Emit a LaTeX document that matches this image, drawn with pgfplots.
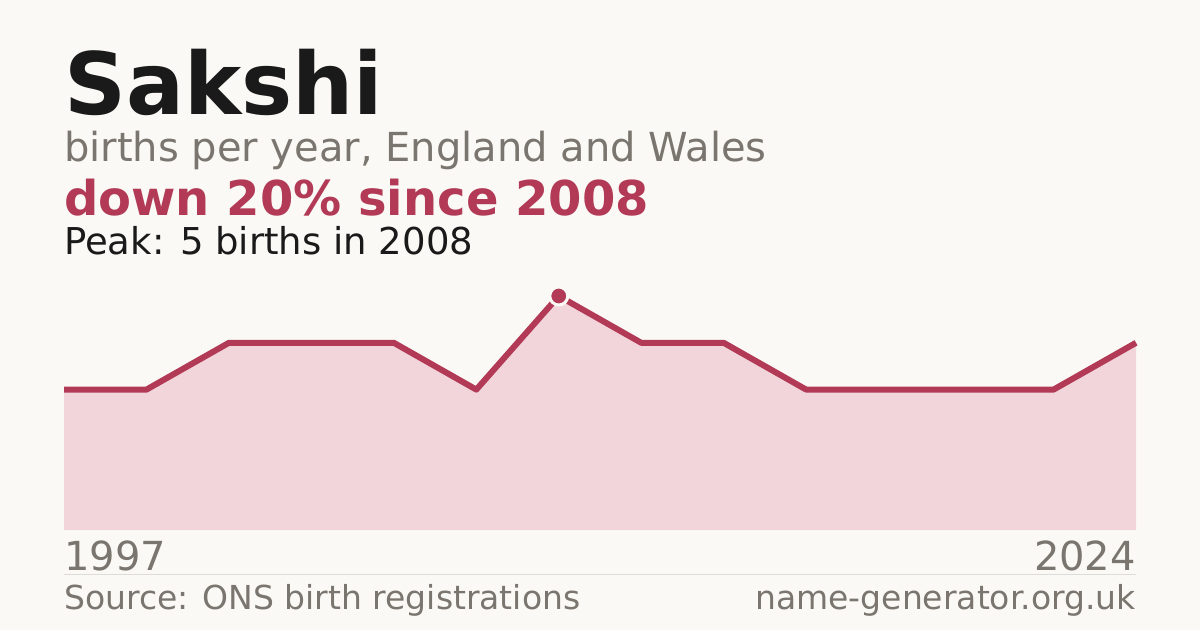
\documentclass[border=0pt]{standalone}
\usepackage{pgfplots}
\pgfplotsset{compat=1.18}
\usepackage{fontspec}
\setmainfont{DejaVu Sans}

\definecolor{bg}{HTML}{FAF9F5}
\definecolor{ink}{HTML}{1A1A1A}
\definecolor{muted}{HTML}{7A756E}
\definecolor{accent}{HTML}{B23A56}
\definecolor{areafill}{HTML}{F1D5DA}
\definecolor{rulec}{HTML}{DEDCD6}

\begin{document}
\begin{tikzpicture}
\fill[bg] (0pt,0pt) rectangle (1200pt,630pt);

\begin{axis}[
    at={(64pt,100pt)}, anchor=south west,
    scale only axis,
    width=1072pt, height=234pt,
    xmin=0, xmax=13,
    ymin=0, ymax=5,
    axis lines=none,
    xtick=\empty, ytick=\empty,
    clip=false,
]
% births per year (plotted by index, 1997 ... 2024)
\addplot[fill=areafill, draw=none] coordinates {
    (0,3)(1,3)(2,4)(3,4)(4,4)(5,3)(6,5)(7,4)(8,4)(9,3)(10,3)(11,3)(12,3)(13,4)
} \closedcycle;
\addplot[accent, line width=6pt, line join=round] coordinates {
    (0,3)(1,3)(2,4)(3,4)(4,4)(5,3)(6,5)(7,4)(8,4)(9,3)(10,3)(11,3)(12,3)(13,4)
};
% peak
\addplot[only marks, mark=*, mark size=9pt,
    mark options={fill=accent, draw=bg, line width=3pt}] coordinates {(6,5)};
\end{axis}

\node[anchor=base west, inner sep=0, text=ink,
    font=\fontsize{86}{86}\selectfont\bfseries] at (64pt,515pt) {Sakshi};
\node[anchor=base west, inner sep=0, text=muted,
    font=\fontsize{40}{40}\selectfont] at (64pt,468pt) {births per year, England and Wales};
\node[anchor=base west, inner sep=0, text=accent,
    font=\fontsize{48}{48}\selectfont\bfseries] at (64pt,414pt) {down 20\% since 2008};
\node[anchor=base west, inner sep=0, text=ink,
    font=\fontsize{37}{37}\selectfont] at (64pt,375pt) {Peak: 5 births in 2008};

\node[anchor=base west, inner sep=0, text=muted,
    font=\fontsize{40}{40}\selectfont] at (64pt,60pt) {1997};
\node[anchor=base east, inner sep=0, text=muted,
    font=\fontsize{40}{40}\selectfont] at (1136pt,60pt) {2024};
\draw[rulec, line width=1pt] (64pt,56pt) -- (1136pt,56pt);
\node[anchor=base west, inner sep=0, text=muted,
    font=\fontsize{33}{33}\selectfont] at (64pt,21pt) {Source: ONS birth registrations};
\node[anchor=base east, inner sep=0, text=muted,
    font=\fontsize{33}{33}\selectfont] at (1136pt,21pt) {name-generator.org.uk};
\end{tikzpicture}
\end{document}
